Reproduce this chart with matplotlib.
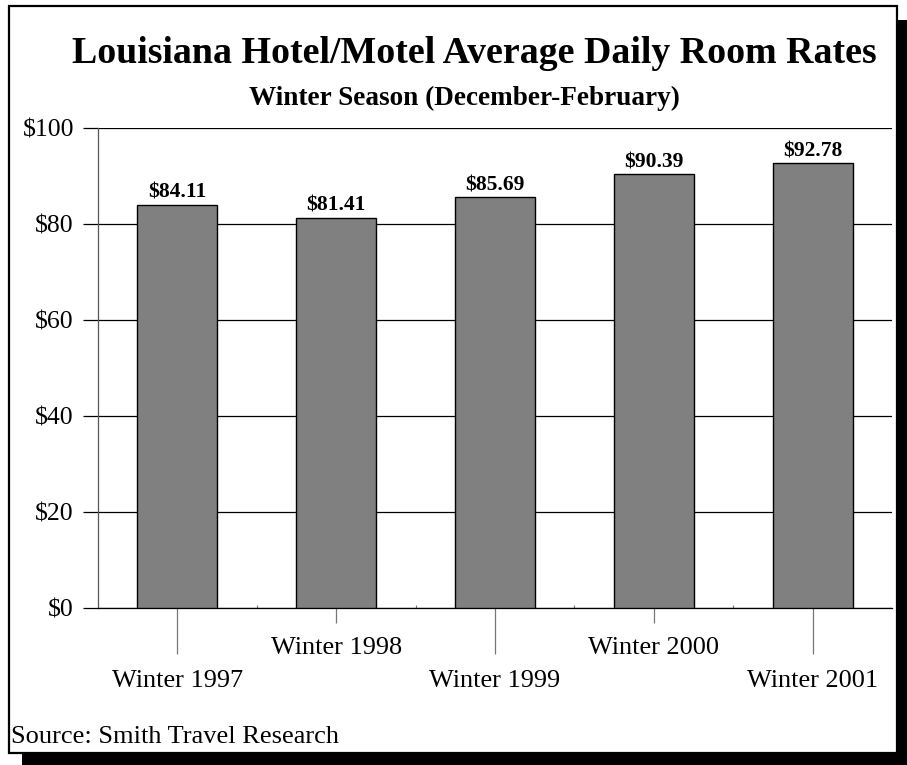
import matplotlib
matplotlib.use("Agg")
import matplotlib.pyplot as plt
from matplotlib.patches import Rectangle

categories = ["Winter 1997", "Winter 1998", "Winter 1999", "Winter 2000", "Winter 2001"]
rates = [84.11, 81.41, 85.69, 90.39, 92.78]
value_labels = ["$84.11", "$81.41", "$85.69", "$90.39", "$92.78"]
yticks = [0, 20, 40, 60, 80, 100]
ytick_labels = ["$0", "$20", "$40", "$60", "$80", "$100"]
title = "Louisiana Hotel/Motel Average Daily Room Rates"
subtitle = "Winter Season (December-February)"
source = "Source: Smith Travel Research"

plt.rcParams['font.family'] = ['Liberation Serif', 'DejaVu Serif']

W, H = 907, 765
fig = plt.figure(figsize=(W / 100, H / 100), dpi=100)
fig.patch.set_facecolor('white')

# shadow and frame
fig.add_artist(Rectangle((22 / W, -0.05), 1.0, 745 / H + 0.05, transform=fig.transFigure,
                         facecolor='black', edgecolor='none', zorder=0))
fig.add_artist(Rectangle((9 / W, 12 / H), (897 - 9) / W, (759 - 12) / H, transform=fig.transFigure,
                         facecolor='white', edgecolor='black', linewidth=1.6, zorder=0.5))

ax = fig.add_axes([98 / W, 157.3 / H, 794 / W, 479.3 / H])
ax.set_facecolor('none')
ax.set_zorder(2)

x = list(range(len(categories)))
bars = ax.bar(x, rates, width=0.505, color='#808080', edgecolor='black', linewidth=1.0, zorder=3)
for xi, v, lab in zip(x, rates, value_labels):
    ax.text(xi, v + 0.4, lab, ha='center', va='bottom', fontsize=15.5, fontweight='bold', zorder=4)

ax.set_xlim(-0.5, len(categories) - 0.5)
ax.set_ylim(0, 100)
ax.set_yticks(yticks, ytick_labels)
ax.yaxis.grid(True, color='black', linewidth=0.9, zorder=0)
ax.set_axisbelow(True)
ax.tick_params(axis='y', length=10.8, width=0.9, color='black', pad=6.5, labelsize=18.5)

for s in ['top', 'right']:
    ax.spines[s].set_visible(False)
ax.spines['left'].set_color('#555555')
ax.spines['left'].set_linewidth(0.9)
ax.spines['bottom'].set_color('black')
ax.spines['bottom'].set_linewidth(0.9)

ax.set_xticks(x, categories)
ax.tick_params(axis='x', which='major', length=10.8, width=0.9, color='#777777', pad=10, labelsize=18.9)
ax.set_xticks([i + 0.5 for i in x[:-1]], minor=True)
ax.tick_params(axis='x', which='minor', direction='in', length=2, width=0.8, color='#777777')
for i, t in enumerate(ax.xaxis.get_major_ticks()):
    if i % 2 == 0:
        t._apply_params(size=33, pad=11.5)

fig.text(474 / W, (H - 63) / H, title, ha='center', va='baseline', fontsize=27.3, fontweight='bold')
fig.text(464 / W, (H - 105) / H, subtitle, ha='center', va='baseline', fontsize=19.6, fontweight='bold')
fig.text(11 / W, (H - 743) / H, source, ha='left', va='baseline', fontsize=19)

fig.savefig('out.png', dpi=100)
